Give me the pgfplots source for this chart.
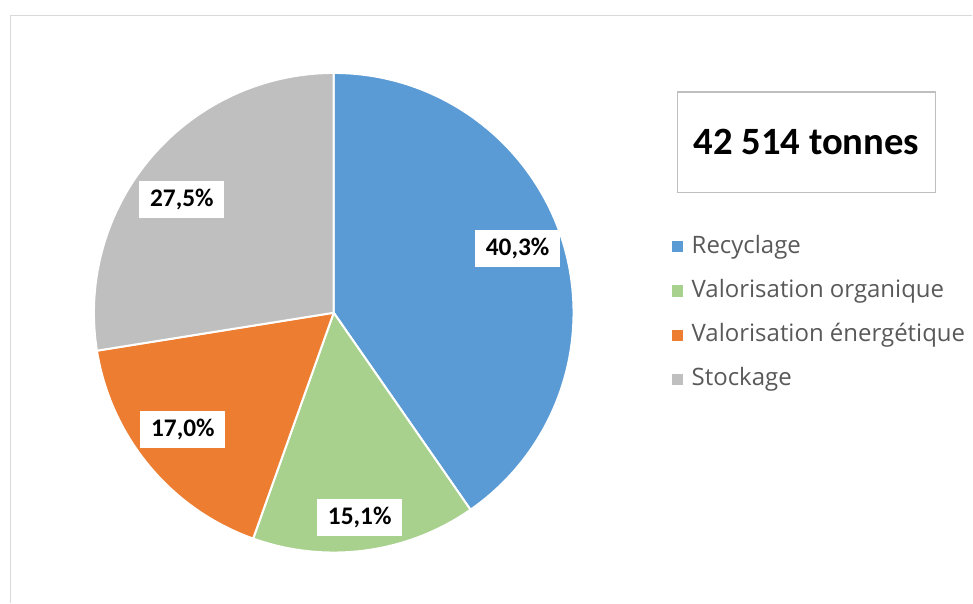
\documentclass[border=0pt]{standalone}
\usepackage{fontspec}
\setmainfont{Carlito}
\newfontfamily\legfont{Open Sans}
\usepackage{pgfplots}
\usepackage{pgfplotstable}
\pgfplotsset{compat=1.18}
\usetikzlibrary{calc}

\definecolor{cRec}{HTML}{5B9BD5}
\definecolor{cOrg}{HTML}{A9D18E}
\definecolor{cEne}{HTML}{ED7D31}
\definecolor{cSto}{HTML}{BFBFBF}
\definecolor{frameline}{HTML}{D9D9D9}
\definecolor{boxline}{HTML}{BFBFBF}
\definecolor{legtext}{HTML}{595959}

% share of each stream (percent), label centre (px)
\pgfplotstableread[col sep=comma]{
label,value,colour,lx,ly
Recyclage,40.3,cRec,518,249
Valorisation organique,15.1,cOrg,360,518
Valorisation énergétique,17.0,cEne,183,430
Stockage,27.5,cSto,182,200
}\piedata

\tikzset{
  pielabel/.style={fill=white, font=\fontsize{19}{22}\selectfont\bfseries,
    inner xsep=8pt, minimum height=28pt},
  legtxt/.style={anchor=west, inner sep=0pt, text=legtext,
    font=\legfont\fontsize{18}{21}\selectfont},
}

\begin{document}
\begin{tikzpicture}
\begin{axis}[
  width=729.75pt, height=452.25pt, scale only axis,
  xmin=0, xmax=973, ymin=0, ymax=603, y dir=reverse,
  hide axis, clip=false,
  /pgf/number format/assume math mode=true,
]
\path (axis cs:0,0) rectangle (axis cs:973,603);
\draw[frameline, line width=1.2pt] (axis cs:973,15.5) -- (axis cs:10.5,15.5) -- (axis cs:10.5,603);

\pgfmathsetmacro\total{0}
\pgfplotsforeachungrouped \i in {0,...,3}{%
  \pgfplotstablegetelem{\i}{value}\of\piedata
  \pgfmathsetmacro\total{\total+\pgfplotsretval}%
}
\def\cum{0}
\pgfplotsforeachungrouped \i in {0,...,3}{%
  \pgfplotstablegetelem{\i}{value}\of\piedata \let\v\pgfplotsretval
  \pgfplotstablegetelem{\i}{colour}\of\piedata \let\c\pgfplotsretval
  \pgfplotstablegetelem{\i}{label}\of\piedata \let\l\pgfplotsretval
  \pgfplotstablegetelem{\i}{lx}\of\piedata \let\px\pgfplotsretval
  \pgfplotstablegetelem{\i}{ly}\of\piedata \let\py\pgfplotsretval
  \pgfmathsetmacro\aS{90-\cum/\total*360}%
  \pgfmathsetmacro\aE{90-(\cum+\v)/\total*360}%
  \pgfmathsetmacro\cum{\cum+\v}%
  \pgfmathsetmacro\ly{247+44.3*\i}%
  \edef\cmd{%
    \noexpand\fill[\c, draw=white, line width=1.5pt, line join=round]
      (axis cs:334,313) -- ++(\aS:180pt) arc[start angle=\aS, end angle=\aE, radius=180pt] -- cycle;
    \noexpand\node[pielabel] at (axis cs:\px,\py)
      {\noexpand\pgfmathprintnumber[fixed,fixed zerofill,precision=1,use comma,assume math mode=true]{\v}\noexpand\%};
    \noexpand\fill[\c] ($(axis cs:678,\ly)+(-4.2pt,-4.2pt)$) rectangle +(8.4pt,8.4pt);
    \noexpand\node[legtxt] at (axis cs:692,\ly) {\l};
  }\cmd
}

\draw[boxline, line width=0.9pt] (axis cs:678,92) rectangle (axis cs:936,193);
\node[font=\fontsize{29}{34}\selectfont\bfseries] at (axis cs:807,142.5) {42~514 tonnes};
\end{axis}
\end{tikzpicture}
\end{document}
